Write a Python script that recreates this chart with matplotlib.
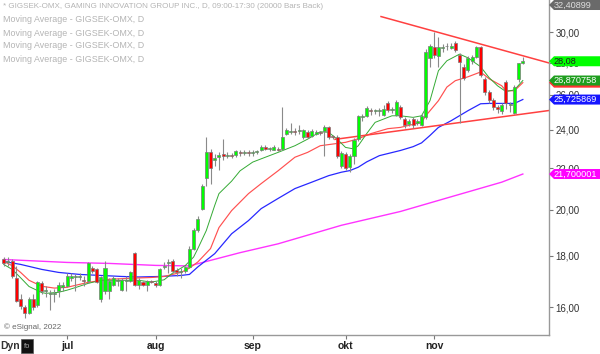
import numpy as np
import matplotlib
matplotlib.use("Agg")
import matplotlib.pyplot as plt
from matplotlib.patches import Polygon, Rectangle
from matplotlib.transforms import blended_transform_factory

plt.rcParams['font.family'] = ['Liberation Sans', 'DejaVu Sans']

# Daily candles GIGSEK-OMX (bar index 0 = early June 2022)
opens = [17.85, 17.75, 17.8, 17.1, 16.3, 16.0, 15.8, 16.3, 16.1, 16.9,
         16.6, 16.5, 16.5, 16.6, 16.75, 16.8, 17.1, 17.15, 17.15, 17.05,
         17.0, 17.5, 17.45, 16.3, 16.6, 16.6, 16.85, 17.0, 16.65, 17.0,
         17.0, 18.1, 16.85, 16.95, 16.85, 17.0, 16.9, 16.85, 17.55, 17.7,
         17.8, 17.42, 17.35, 17.4, 17.55, 18.3, 19.1, 20.05, 21.5, 22.8,
         22.4, 22.55, 22.7, 22.6, 22.65, 22.65, 22.8, 22.75, 22.8, 22.75,
         22.8, 22.95, 23.1, 23.0, 22.95, 23.0, 23.0, 23.8, 23.9, 23.92,
         23.95, 23.6, 23.9, 23.65, 23.8, 23.9, 23.95, 24.15, 23.65, 23.6,
         22.1, 22.7, 22.05, 22.6, 23.5, 24.7, 24.75, 25.1, 25.05, 25.05,
         24.85, 25.55, 25.1, 24.85, 25.3, 24.6, 24.35, 24.6, 24.4, 24.25,
         24.7, 28.3, 29.0, 28.4, 28.95, 29.05, 28.95, 29.3, 28.5, 27.7,
         27.5, 28.1, 28.35, 29.0, 26.95, 26.2, 25.7, 25.3, 25.05, 26.8,
         25.4, 24.95, 26.95, 28.0]
highs = [17.95, 17.95, 17.85, 17.6, 16.5, 16.1, 16.4, 16.5, 17.0, 17.0,
         16.8, 16.65, 16.7, 16.95, 16.95, 17.3, 17.3, 17.25, 17.3, 17.2,
         17.75, 17.6, 17.5, 17.2, 17.8, 17.1, 17.2, 17.1, 17.1, 17.2,
         17.4, 18.15, 17.1, 17.0, 17.05, 17.05, 17.0, 17.5, 17.75, 17.85,
         17.85, 17.5, 17.5, 17.6, 18.4, 19.2, 19.7, 21.2, 23.6, 23.0,
         22.7, 22.8, 23.5, 22.8, 22.75, 22.95, 22.9, 22.9, 22.9, 22.9,
         22.95, 23.2, 23.2, 23.1, 23.2, 23.1, 25.3, 24.1, 24.4, 24.1,
         24.3, 24.05, 24.0, 24.05, 24.0, 23.95, 24.25, 24.2, 23.75, 23.7,
         22.85, 22.8, 22.7, 23.55, 24.85, 24.9, 25.35, 25.25, 25.2, 25.25,
         25.4, 25.65, 25.3, 25.7, 25.4, 24.7, 24.6, 24.7, 24.6, 24.9,
         28.9, 29.2, 30.0, 29.7, 29.2, 29.3, 29.25, 29.4, 28.6, 27.9,
         28.4, 28.5, 29.1, 29.1, 27.1, 26.3, 25.8, 25.4, 25.5, 26.9,
         25.6, 26.6, 28.0, 28.35]
lows = [17.6, 17.6, 17.1, 16.2, 15.95, 15.6, 15.75, 15.9, 16.0, 16.5,
        16.4, 15.9, 16.2, 16.4, 16.6, 16.75, 17.0, 16.6, 17.05, 16.8,
        16.9, 17.3, 16.9, 16.2, 16.5, 16.3, 16.8, 16.8, 16.6, 16.6,
        16.95, 16.8, 16.7, 16.8, 16.6, 16.9, 16.75, 16.8, 17.45, 17.3,
        17.3, 17.2, 17.1, 17.3, 17.5, 18.25, 19.0, 20.0, 21.1, 21.2,
        22.1, 21.9, 22.4, 22.5, 22.5, 22.55, 22.6, 22.65, 22.6, 22.6,
        22.7, 22.85, 22.9, 22.85, 22.9, 22.85, 22.95, 23.7, 23.8, 23.7,
        23.8, 23.5, 23.55, 23.6, 23.7, 23.7, 22.6, 23.5, 23.5, 22.5,
        22.0, 21.9, 21.8, 22.2, 23.4, 24.5, 24.7, 24.85, 24.9, 24.8,
        24.8, 25.0, 24.95, 24.8, 24.6, 24.1, 24.2, 24.1, 24.3, 24.2,
        24.6, 27.7, 28.3, 27.7, 28.7, 28.8, 28.85, 28.7, 24.4, 26.9,
        27.4, 27.9, 28.3, 27.1, 26.0, 25.5, 25.1, 24.95, 24.9, 25.2,
        25.0, 24.9, 26.8, 27.9]
closes = [17.7, 17.8, 17.2, 16.25, 16.05, 15.8, 16.3, 16.0, 16.95, 16.6,
          16.65, 16.5, 16.55, 16.85, 16.85, 17.2, 17.2, 17.15, 17.2, 17.0,
          17.7, 17.4, 16.95, 17.15, 17.5, 17.0, 17.1, 17.02, 17.05, 17.05,
          17.35, 16.85, 17.05, 16.85, 17.0, 16.95, 16.85, 17.45, 17.6, 17.75,
          17.4, 17.35, 17.4, 17.55, 18.3, 19.1, 19.6, 21.1, 22.8, 22.0,
          22.5, 22.65, 22.6, 22.65, 22.6, 22.85, 22.75, 22.8, 22.75, 22.8,
          22.85, 23.1, 22.98, 23.0, 23.1, 22.95, 23.6, 24.0, 23.95, 23.9,
          23.98, 23.97, 23.6, 23.95, 23.9, 23.83, 24.15, 23.6, 23.6, 22.6,
          22.75, 22.0, 22.6, 23.45, 24.75, 24.75, 25.25, 25.05, 25.05, 25.1,
          25.2, 25.1, 25.15, 25.6, 24.7, 24.25, 24.5, 24.25, 24.5, 24.8,
          28.7, 29.05, 28.5, 29.0, 29.0, 29.1, 29.1, 28.8, 28.05, 27.0,
          28.3, 28.35, 29.0, 27.2, 26.2, 25.7, 25.3, 25.15, 25.4, 25.5,
          25.45, 26.5, 27.95, 28.08]

# Moving averages (bar index, price)
ma_green_x = [0, 2, 4, 6, 9, 10, 13, 15, 17, 20, 23, 29, 32, 35, 38, 40, 43, 45,
              46, 48, 50, 51, 54, 56, 59, 62, 65, 69, 72, 75, 77, 79, 81, 83, 84,
              86, 88, 92, 94, 97, 99, 101, 103, 105, 108, 110, 113, 115, 117, 119,
              121, 123]
ma_green = [17.65, 17.45, 17.12, 16.78, 16.55, 16.52, 16.56, 16.64, 16.74, 16.9,
            17.02, 17.02, 17.02, 16.95, 17.04, 17.3, 17.6, 17.95, 18.3, 19.07,
            20.2, 20.75, 21.35, 21.86, 22.3, 22.55, 22.8, 23.15, 23.5, 23.9,
            23.87, 23.5, 23.06, 22.98, 23.15, 23.8, 24.42, 24.79, 24.79, 24.7,
            24.79, 25.66, 27.48, 28.11, 28.54, 28.3, 27.73, 27.05, 26.55, 26.2,
            26.3, 26.87]
ma_red_x = [0, 2, 4, 6, 9, 12, 15, 20, 25, 30, 35, 38, 42, 44, 46, 49, 51, 54, 58,
            61, 65, 69, 72, 75, 78, 81, 84, 87, 91, 94, 99, 100, 103, 105, 107,
            110, 113, 115, 118, 119, 121, 123]
ma_red = [17.77, 17.6, 17.33, 17.02, 16.79, 16.72, 16.75, 16.94, 17.06, 17.1,
          17.13, 17.17, 17.33, 17.5, 17.75, 18.3, 19.2, 19.96, 20.75, 21.23,
          21.86, 22.55, 22.8, 23.15, 23.24, 23.33, 23.52, 23.8, 24.07, 24.14,
          24.42, 24.79, 25.66, 26.47, 26.86, 27.1, 27.4, 26.98, 26.55, 26.25,
          26.25, 26.74]
ma_blue_x = [0, 4, 9, 13, 18, 23, 28, 32, 37, 42, 44, 46, 50, 54, 58, 61, 65, 69,
             73, 77, 80, 82, 84, 86, 89, 94, 97, 99, 101, 103, 106, 110, 113, 115,
             118, 121, 123]
ma_blue = [17.77, 17.65, 17.45, 17.33, 17.25, 17.21, 17.17, 17.15, 17.17, 17.21,
           17.25, 17.55, 18.09, 18.93, 19.51, 20.05, 20.52, 20.99, 21.3, 21.62,
           21.79, 21.87, 22.04, 22.31, 22.63, 22.9, 23.1, 23.3, 23.7, 24.14,
           24.51, 25.08, 25.48, 25.5, 25.5, 25.5, 25.73]
ma_magenta_x = [0, 15, 25, 36, 44, 56, 65, 80, 94, 106, 118, 123]
ma_magenta = [17.85, 17.73, 17.69, 17.61, 17.59, 18.13, 18.5, 19.3, 19.92, 20.6,
              21.3, 21.7]

# triangle trendlines
trend_upper_x = [89.4, 129.2]
trend_upper = [31.1, 27.97]
trend_lower_x = [78.5, 129.2]
trend_lower = [23.49, 25.09]

month_pos = [15, 36, 59, 81, 102]
month_labels = ['jul', 'aug', 'sep', 'okt', 'nov']
price_ticks = [16, 18, 20, 22, 24, 26, 28, 30]

# right-hand value tags
tag_top = 32.40899
tag_values = [28.08, 26.870758, 25.725869, 21.700001]
tag_labels = ['28,08', '26,870758', '25,725869', '21,700001']
tag_faces = ['#00ff00', '#1e9e1e', '#1515ff', '#ff00ff']
tag_text = ['#202020', '#ffffff', '#ffffff', '#ffffff']

header = "* GIGSEK-OMX, GAMING INNOVATION GROUP INC., D, 09:00-17:30 (20000 Bars Back)"
ma_lines = ["Moving Average - GIGSEK-OMX, D"] * 4

# Plot
fig = plt.figure(figsize=(6, 3.54), dpi=100)
ax = fig.add_axes([0, 19 / 354, 549 / 600, 335 / 354])
ax.set_yscale('log')
ax.set_xlim(-0.88, 129.2)
ax.set_ylim(15.02, 32.3)

x = np.arange(len(closes))
o = np.array(opens)
c = np.array(closes)
up = c >= o
lo = np.minimum(o, c)
hi = np.maximum(np.maximum(o, c), lo * 1.002)

ax.plot(ma_magenta_x, ma_magenta, color='#ff33ff', lw=1.0, zorder=2)
ax.plot(ma_blue_x, ma_blue, color='#2828ff', lw=0.9, zorder=2)
ax.plot(ma_red_x, ma_red, color='#ff5050', lw=0.85, zorder=2)
ax.plot(ma_green_x, ma_green, color='#34aa34', lw=0.7, zorder=2)
ax.plot(trend_upper_x, trend_upper, color='#ff4040', lw=1.1, zorder=2)
ax.plot(trend_lower_x, trend_lower, color='#ff4040', lw=1.1, zorder=2)

ax.vlines(x, lows, highs, color='#8a8a8a', lw=0.8, zorder=3)
ax.bar(x[up], hi[up] - lo[up], bottom=lo[up], width=0.72, color='#00ff00',
       edgecolor='#7a7a7a', lw=0.5, zorder=4)
ax.bar(x[~up], hi[~up] - lo[~up], bottom=lo[~up], width=0.72, color='#ff0000',
       edgecolor='#7a7a7a', lw=0.5, zorder=4)

# axes styling
ax.yaxis.tick_right()
ax.set_yticks(price_ticks)
ax.set_yticklabels([f"{t:.2f}".replace('.', ',') for t in price_ticks])
ax.yaxis.set_minor_locator(matplotlib.ticker.NullLocator())
ax.tick_params(axis='y', direction='out', length=3, width=0.8, color='#777777',
               labelsize=7, labelcolor='#333333', pad=1.5)
ax.set_xticks(month_pos)
ax.set_xticklabels(month_labels, fontweight='bold')
ax.tick_params(axis='x', direction='out', length=3, width=0.8, color='#777777',
               labelsize=7.5, labelcolor='#222222', pad=1.5)
for s in ['top', 'left']:
    ax.spines[s].set_visible(False)
for s in ['right', 'bottom']:
    ax.spines[s].set_color('#999999')
    ax.spines[s].set_linewidth(1.0)

# value tags at the right
trans = blended_transform_factory(fig.transFigure, ax.transData)
k = 10 ** (5 / 1007)


def value_tag(pos, text, face, tcolor):
    x0, xn, x1 = 549 / 600, 554 / 600, 1.0
    pts = [(x0, pos), (xn, pos * k), (x1, pos * k), (x1, pos / k), (xn, pos / k)]
    ax.add_patch(Polygon(pts, closed=True, transform=trans, facecolor=face,
                         edgecolor='none', clip_on=False, zorder=10))
    if text:
        ax.text(553.5 / 600, pos, text, transform=trans, ha='left', va='center',
                fontsize=6.6, color=tcolor, clip_on=False, zorder=11)


value_tag(32.3 / k, f"{tag_top:.5f}".replace('.', ','), '#6a6a6a', '#dddddd')
value_tag(ma_red[-1], '', '#ff3030', '#ffffff')
for v, lab, f, t in zip(tag_values, tag_labels, tag_faces, tag_text):
    value_tag(v, lab, f, t)

# header text
fig.text(3 / 600, 1 - 7 / 354, header, fontsize=5.8, color='#b4b4b4',
         ha='left', va='center')
for n, line in enumerate(ma_lines):
    fig.text(3 / 600, 1 - (20 + 13 * n) / 354, line, fontsize=6.4, color='#b4b4b4',
             ha='left', va='center')

# footer
fig.text(4 / 600, 1 - 327 / 354, '\u00a9 eSignal, 2022', fontsize=5.8, color='#666666',
         ha='left', va='center')
fig.text(0, 1 - 346 / 354, 'Dyn', fontsize=7.5, fontweight='bold', color='#333333',
         ha='left', va='center')
fig.patches.append(Rectangle((21 / 600, 1 - 353 / 354), 12 / 600, 14 / 354,
                             transform=fig.transFigure, facecolor='#111111',
                             edgecolor='#555555', lw=0.5))
fig.text(27 / 600, 1 - 346 / 354, 'fo', fontsize=5.5, color='#aaaaaa',
         ha='center', va='center')

plt.savefig('out.png', dpi=100)
